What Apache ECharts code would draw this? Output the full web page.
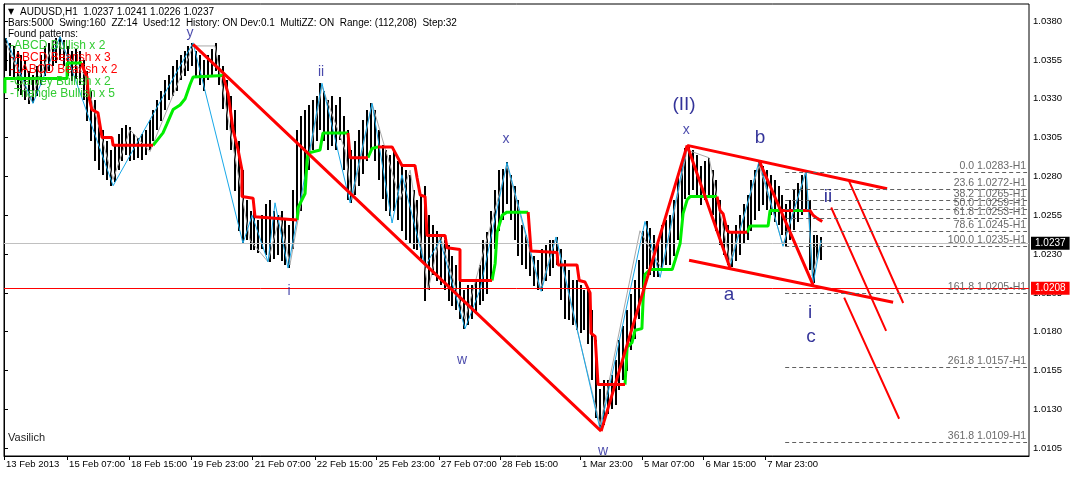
<!DOCTYPE html>
<html><head><meta charset="utf-8">
<script src="https://cdn.jsdelivr.net/npm/echarts@6/dist/echarts.min.js"></script>
<style>html,body{margin:0;padding:0;background:#fff}#c{width:1071px;height:477px}</style>
</head><body><div id="c"></div>
<script>
// ---- DATA ----
// 2-hour groups of hourly bars (group k centred on hourly bar 2k+1)
const barHigh = [
1.0369,1.0366,1.0364,1.0361,1.0358,1.0355,1.0348,1.0345,1.0351,1.0358,
1.0364,1.0366,1.0368,1.0369,1.0370,1.0368,1.0364,1.0361,1.0362,1.0361,
1.0355,1.0348,1.0335,1.0329,1.0319,1.0310,1.0303,1.0297,1.0300,1.0307,
1.0311,1.0313,1.0312,1.0307,1.0305,1.0307,1.0310,1.0316,1.0323,1.0329,
1.0335,1.0342,1.0345,1.0351,1.0355,1.0358,1.0361,1.0364,1.0366,1.0361,
1.0358,1.0355,1.0358,1.0362,1.0366,1.0358,1.0351,1.0342,1.0332,1.0323,
1.0303,1.0284,1.0265,1.0258,1.0258,1.0252,1.0255,1.0262,1.0265,1.0258,
1.0255,1.0258,1.0252,1.0249,1.0271,1.0310,1.0319,1.0323,1.0326,1.0329,
1.0332,1.0340,1.0335,1.0329,1.0332,1.0326,1.0331,1.0319,1.0310,1.0297,
1.0303,1.0310,1.0316,1.0323,1.0327,1.0323,1.0310,1.0300,1.0297,1.0294,
1.0297,1.0290,1.0287,1.0284,1.0281,1.0271,1.0265,1.0268,1.0274,1.0255,
1.0249,1.0245,1.0242,1.0239,1.0236,1.0229,1.0223,1.0217,1.0207,1.0210,
1.0210,1.0213,1.0223,1.0239,1.0244,1.0258,1.0271,1.0284,1.0285,1.0289,
1.0281,1.0274,1.0265,1.0249,1.0242,1.0236,1.0229,1.0226,1.0233,1.0236,
1.0239,1.0239,1.0241,1.0233,1.0226,1.0220,1.0213,1.0213,1.0210,1.0207,
1.0207,1.0194,1.0175,1.0143,1.0149,1.0149,1.0152,1.0162,1.0175,1.0184,
1.0194,1.0204,1.0213,1.0226,1.0245,1.0251,1.0247,1.0242,1.0239,1.0249,
1.0252,1.0255,1.0265,1.0281,1.0290,1.0298,1.0300,1.0297,1.0294,1.0287,
1.0290,1.0292,1.0284,1.0278,1.0265,1.0255,1.0249,1.0245,1.0249,1.0255,
1.0262,1.0268,1.0278,1.0284,1.0290,1.0287,1.0284,1.0281,1.0278,1.0274,
1.0268,1.0262,1.0265,1.0271,1.0276,1.0281,1.0284,1.0265,1.0242,1.0242,
1.0241];
const barLow = [
1.0348,1.0345,1.0342,1.0335,1.0332,1.0329,1.0327,1.0327,1.0332,1.0339,
1.0345,1.0348,1.0351,1.0353,1.0355,1.0351,1.0345,1.0342,1.0343,1.0339,
1.0329,1.0316,1.0303,1.0290,1.0284,1.0281,1.0278,1.0274,1.0276,1.0284,
1.0290,1.0294,1.0290,1.0290,1.0292,1.0290,1.0294,1.0297,1.0303,1.0310,
1.0316,1.0323,1.0329,1.0332,1.0335,1.0342,1.0345,1.0348,1.0351,1.0345,
1.0339,1.0335,1.0342,1.0345,1.0348,1.0339,1.0323,1.0310,1.0297,1.0271,
1.0245,1.0237,1.0239,1.0233,1.0233,1.0231,1.0233,1.0229,1.0225,1.0227,
1.0229,1.0226,1.0223,1.0221,1.0233,1.0252,1.0258,1.0271,1.0284,1.0297,
1.0303,1.0310,1.0303,1.0297,1.0300,1.0297,1.0303,1.0284,1.0265,1.0263,
1.0268,1.0274,1.0281,1.0290,1.0297,1.0290,1.0278,1.0265,1.0258,1.0255,
1.0258,1.0252,1.0245,1.0239,1.0237,1.0233,1.0233,1.0226,1.0200,1.0207,
1.0217,1.0213,1.0210,1.0207,1.0200,1.0197,1.0194,1.0188,1.0182,1.0184,
1.0188,1.0191,1.0197,1.0200,1.0204,1.0213,1.0233,1.0245,1.0252,1.0262,
1.0252,1.0239,1.0229,1.0223,1.0220,1.0216,1.0210,1.0207,1.0206,1.0213,
1.0216,1.0221,1.0223,1.0200,1.0188,1.0188,1.0184,1.0181,1.0179,1.0181,
1.0172,1.0149,1.0125,1.0117,1.0120,1.0127,1.0130,1.0133,1.0143,1.0149,
1.0155,1.0168,1.0175,1.0188,1.0207,1.0220,1.0217,1.0215,1.0215,1.0220,
1.0223,1.0223,1.0229,1.0239,1.0252,1.0265,1.0268,1.0271,1.0268,1.0262,
1.0265,1.0268,1.0255,1.0245,1.0236,1.0229,1.0223,1.0222,1.0226,1.0229,
1.0236,1.0239,1.0245,1.0252,1.0258,1.0262,1.0258,1.0255,1.0251,1.0249,
1.0242,1.0235,1.0239,1.0245,1.0251,1.0255,1.0258,1.0220,1.0211,1.0226,
1.0226];

const tickBars = [0, 32.5, 64.4, 96.2, 128.1, 160.1, 192.0, 224.0, 255.5, 296.7, 328.6, 360.3, 392.2];
const tickLabels = ['13 Feb 2013','15 Feb 07:00','18 Feb 15:00','19 Feb 23:00','21 Feb 07:00','22 Feb 15:00','25 Feb 23:00','27 Feb 07:00','28 Feb 15:00','1 Mar 23:00','5 Mar 07:00','6 Mar 15:00','7 Mar 23:00'];
const yTicks = [1.0105,1.0130,1.0155,1.0180,1.0205,1.0230,1.0255,1.0280,1.0305,1.0330,1.0355,1.0380];

// zigzags [bar, price]
const zigzagBlue = [[1.0,1.0369],[14.9,1.0327],[28.9,1.0370],[56.2,1.0274],[97.4,1.0366],[123.1,1.0237],[127.8,1.0255],[136.0,1.0225],[139.6,1.0263],[146.3,1.0221],[163.8,1.0340],[178.3,1.0263],[189.6,1.0327],[199.9,1.0250],[205.0,1.0281],[216.9,1.0222],[224.6,1.0239],[237.5,1.0182],[245.2,1.0207],[259.1,1.0289],[276.7,1.0206],[284.4,1.0241],[307.1,1.0117],[330.2,1.0251],[338.0,1.0215],[351.9,1.0300],[374.0,1.0222],[389.0,1.0290],[401.3,1.0235],[413.2,1.0284],[416.8,1.0211],[420.9,1.0239]];
const zigzagGray = [[1.0,1.0366],[13.4,1.0329],[26.3,1.0368],[41.7,1.0345],[56.2,1.0278],[64.9,1.0310],[75.2,1.0296],[97.4,1.0364],[108.7,1.0364],[126.7,1.0239],[136.0,1.0225],[142.2,1.0255],[147.3,1.0223],[163.8,1.0338],[175.7,1.0297],[179.3,1.0265],[189.6,1.0327],[204.0,1.0265],[209.2,1.0284],[218.5,1.0207],[224.6,1.0242],[237.5,1.0188],[259.1,1.0287],[276.2,1.0207],[284.4,1.0241],[291.6,1.0200],[307.1,1.0120],[327.6,1.0245],[339.0,1.0220],[351.9,1.0297],[363.2,1.0292],[374.0,1.0225],[389.0,1.0287],[401.3,1.0236],[413.2,1.0283],[416.3,1.0216],[420.9,1.0238]];

// trailing step line pieces
const stepGreen = [
 [[0.5,1.03335],[0.5,1.0343],[32.5,1.0343],[32.5,1.0353],[40.2,1.0353]],
 [[76.8,1.0300],[81.9,1.0308],[84.0,1.0314],[87.1,1.0323],[90.7,1.0326],[93.3,1.0330],[95.8,1.0339],[97.4,1.0344],[112.8,1.0345]],
 [[151.0,1.0252],[151.5,1.0260],[155.1,1.0269],[156.1,1.0290],[156.6,1.0295],[162.8,1.0297],[164.3,1.0308],[177.2,1.0308]],
 [[187.5,1.0292],[189.6,1.0298],[192.7,1.0299]],
 [[251.4,1.0213],[253.0,1.0224],[254.0,1.0244],[256.6,1.0255],[259.1,1.0257],[270.0,1.0257]],
 [[319.9,1.0146],[321.0,1.0170],[323.5,1.0173],[325.1,1.0181],[328.6,1.0182],[329.2,1.0200],[330.2,1.0217],[332.8,1.0220],[344.2,1.0220],[345.7,1.0226],[348.3,1.0237],[349.8,1.0256],[351.9,1.0265],[353.4,1.0267],[367.3,1.0267]],
 [[382.8,1.0244],[384.3,1.0248],[393.6,1.0248],[394.6,1.0258],[401.3,1.0258]],
 [[406.5,1.0258],[411.6,1.0258]]
];
const stepRed = [
 [[40.2,1.0353],[40.7,1.0350],[42.8,1.0344],[43.3,1.03335],[45.3,1.0323],[48.4,1.0321],[50.5,1.0305],[55.6,1.0305],[56.2,1.0300],[76.8,1.0300]],
 [[112.8,1.0345],[115.4,1.03335],[118.0,1.0310],[120.6,1.0297],[122.6,1.0284],[122.6,1.0267],[128.3,1.0266],[129.3,1.0254],[151.0,1.0252]],
 [[177.2,1.0308],[178.3,1.0292],[187.5,1.0292]],
 [[192.7,1.0299],[199.9,1.0299],[205.0,1.0287],[211.7,1.0287],[212.8,1.0279],[214.4,1.0268],[216.9,1.0267],[217.9,1.0242],[227.2,1.0242],[228.2,1.0234],[234.9,1.0233],[234.9,1.0213],[251.4,1.0213]],
 [[270.0,1.0257],[271.5,1.0232],[272.5,1.0231],[284.9,1.0231],[285.4,1.0223],[295.2,1.0223],[296.3,1.0213],[299.3,1.0212],[301.9,1.0205],[302.4,1.0179],[304.5,1.0177],[306.0,1.0146],[319.9,1.0146]],
 [[367.3,1.0267],[368.9,1.0258],[370.4,1.0256],[372.5,1.0245],[374.0,1.0244],[382.8,1.0244]],
 [[400.3,1.0258],[415.2,1.0258],[416.8,1.0255],[418.9,1.0253],[421.5,1.0251]]
];

// wave / channel lines
const trendMain = [
 [[97.4,1.0365],[307.6,1.0116]],
 [[307.6,1.0116],[351.9,1.0300]],
 [[351.9,1.0300],[374.0,1.0221]],
 [[351.9,1.0300],[454.9,1.0272]],
 [[352.9,1.0226],[458.0,1.0199]],
 [[389.0,1.0290],[416.8,1.0210]]
];
const trendProj = [
 [[435.3,1.0277],[463.2,1.01985]],
 [[426.1,1.0260],[454.4,1.01805]],
 [[432.8,1.0202],[461.1,1.0124]]
];

// Fibonacci levels
const fibLevels = ['0.0','23.6','38.2','50.0','61.8','78.6','100.0','161.8','261.8','361.8'];
const fibPrices = [1.0283,1.0272,1.0265,1.0259,1.0253,1.0245,1.0235,1.0205,1.0157,1.0109];
const fibSpan = [402.4, 527];

// wave labels
const smallWaveText = ['y','ii','i','w','x','w','x'];
const smallWaveBar = [95.8,163.3,146.8,236.0,258.6,308.6,351.4];
const smallWavePrice = [1.0372,1.0347,1.0206,1.0162,1.0304,1.0103,1.0310];
const bigWaveText = ['(II)','b','a','ii','i','c'];
const bigWaveBar = [350.3,389.5,373.5,424.5,415.2,415.7];
const bigWavePrice = [1.0326,1.0305,1.0204,1.0267,1.0192,1.0177];

const lastPrice = 1.0237;
const alertLevel = 1.0208;
const headerLine1 = 'AUDUSD,H1  1.0237 1.0241 1.0226 1.0237';
const headerLine2 = 'Bars:5000  Swing:160  ZZ:14  Used:12  History: ON Dev:0.1  MultiZZ: ON  Range: (112,208)  Step:32';
const patternText = ['-ABCD Bullish x 2','-ABCD Bearish x 3','-1ABCD Bearish x 2','-Gartley Bullish x 2','-Triangle Bullish x 5'];
const patternBull = [true,false,false,true,true];

// ---- BUILD ----
function joinPieces(pieces){
  const out = [];
  pieces.forEach((p,i)=>{ if(i) out.push(['-','-']); p.forEach(pt=>out.push(pt)); });
  return out;
}
const FONT = 'Liberation Sans, Arial, sans-serif';
const chart = echarts.init(document.getElementById('c'), null, {renderer:'canvas'});

const barData = barHigh.map((h,k)=>[2*k+1, h, barLow[k]]);

const option = {
  animation:false,
  backgroundColor:'#ffffff',
  grid:{left:4, right:42, top:4, bottom:21, show:true, borderColor:'#000', borderWidth:1, backgroundColor:'#fff'},
  xAxis:{type:'value', min:0, max:528,
    axisLine:{show:true, lineStyle:{color:'#000', width:1}},
    axisTick:{show:true, customValues:tickBars, length:4, lineStyle:{color:'#000'}},
    axisLabel:{show:true, customValues:tickBars, align:'left', margin:3, padding:[0,0,0,2], fontSize:9.5, fontFamily:FONT, color:'#000',
      formatter:(v)=>{ const i = tickBars.findIndex(t=>Math.abs(t-v)<0.01); return i>=0?tickLabels[i]:''; }},
    splitLine:{show:false}},
  yAxis:{type:'value', position:'right', min:1.0100, max:1.0391, scale:true,
    axisLine:{show:true, lineStyle:{color:'#000', width:1}},
    axisTick:{show:true, customValues:yTicks, length:4, lineStyle:{color:'#000'}},
    axisLabel:{show:true, customValues:yTicks, margin:4, fontSize:9.5, fontFamily:FONT, color:'#000', formatter:v=>v.toFixed(4)},
    splitLine:{show:false}},
  series:[
    {type:'custom', name:'bars', data:barData, encode:{x:0, y:[1,2]}, clip:true, z:2,
      renderItem:(params, api)=>{
        const x = api.value(0);
        const p1 = api.coord([x, api.value(1)]);
        const p2 = api.coord([x, api.value(2)]);
        return {type:'rect', shape:{x:Math.round(p1[0])-1, y:Math.round(p1[1]), width:2, height:Math.max(1, Math.round(p2[1]-p1[1]))}, style:{fill:'#000'}};
      }},
    {type:'line', name:'zzGray', data:zigzagGray, symbol:'none', z:3, lineStyle:{color:'#a8a8a8', width:1}},
    {type:'line', name:'zzBlue', data:zigzagBlue, symbol:'none', z:4, lineStyle:{color:'#18a8e8', width:1},
      markLine:{silent:true, symbol:['none','none'], animation:false, precision:4,
        data:[
          {yAxis:lastPrice, lineStyle:{color:'#c0c0c0', width:1, type:'solid'},
            label:{show:true, position:'end', distance:2, formatter:()=>lastPrice.toFixed(4), backgroundColor:'#000', color:'#fff', padding:[2,4,1,4], fontSize:10, fontFamily:FONT}},
          {yAxis:alertLevel, lineStyle:{color:'#ff0000', width:1, type:'solid'},
            label:{show:true, position:'end', distance:2, formatter:()=>alertLevel.toFixed(4), backgroundColor:'#ff0000', color:'#fff', padding:[2,4,1,4], fontSize:10, fontFamily:FONT}}
        ]}},
    {type:'line', name:'stepGreen', data:joinPieces(stepGreen), symbol:'none', connectNulls:false, z:5, lineStyle:{color:'#00ee00', width:3}},
    {type:'line', name:'stepRed', data:joinPieces(stepRed), symbol:'none', connectNulls:false, z:5, lineStyle:{color:'#ff0000', width:3}},
    {type:'line', name:'stepGreen2', data:joinPieces(stepGreen.slice(-1)), symbol:'none', z:6, lineStyle:{color:'#00ee00', width:3}},
    {type:'line', name:'trendMain', data:joinPieces(trendMain), symbol:'none', connectNulls:false, z:7, lineStyle:{color:'#ff0000', width:3}},
    {type:'line', name:'trendProj', data:joinPieces(trendProj), symbol:'none', connectNulls:false, z:7, lineStyle:{color:'#ff0000', width:2}},
    {type:'custom', name:'fib', data:fibPrices.map((p,i)=>[fibSpan[0], p, fibSpan[1], i]), clip:false, z:8,
      renderItem:(params, api)=>{
        const a = api.coord([api.value(0), api.value(1)]);
        const b = api.coord([api.value(2), api.value(1)]);
        const i = api.value(3);
        const y = Math.round(a[1]) + 0.5;
        return {type:'group', children:[
          {type:'line', shape:{x1:a[0], y1:y, x2:b[0], y2:y}, style:{stroke:'#606060', lineWidth:1, lineDash:[4,3]}},
          {type:'text', x:b[0]-1, y:y-1, style:{text:fibLevels[i]+' '+fibPrices[i].toFixed(4)+'-H1', fill:'#6a6a6a', font:'10.5px '+FONT, align:'right', verticalAlign:'bottom'}}
        ]};
      }},
    {type:'scatter', name:'smallWaves', data:smallWaveText.map((t,i)=>[smallWaveBar[i], smallWavePrice[i], t]), symbolSize:1, z:9,
      itemStyle:{color:'rgba(0,0,0,0)'},
      label:{show:true, position:'inside', formatter:p=>p.data[2], color:'#1c1c96', fontSize:14, fontFamily:FONT}},
    {type:'scatter', name:'bigWaves', data:bigWaveText.map((t,i)=>[bigWaveBar[i], bigWavePrice[i], t]), symbolSize:1, z:9,
      itemStyle:{color:'rgba(0,0,0,0)'},
      label:{show:true, position:'inside', formatter:p=>p.data[2], color:'#000080', fontSize:19, fontFamily:FONT}}
  ],
  graphic:[
    {type:'text', x:8, y:12, z:100, style:{text:'▼', font:'8px DejaVu Sans', fill:'#000', verticalAlign:'middle'}},
    {type:'text', x:20, y:12.5, z:100, style:{text:headerLine1, font:'10px '+FONT, fill:'#000', verticalAlign:'middle'}},
    {type:'text', x:8, y:23, z:100, style:{text:headerLine2, font:'10px '+FONT, fill:'#000', verticalAlign:'middle'}},
    {type:'text', x:8, y:34, z:100, style:{text:'Found patterns:', font:'10px '+FONT, fill:'#000', verticalAlign:'middle'}},
    ...patternText.map((t,i)=>({type:'text', x:10, y:45.5+12*i, z:100, style:{text:t, font:'12px '+FONT, fill:patternBull[i]?'#33cc33':'#ff0000', verticalAlign:'middle'}})),
    {type:'text', x:8, y:438, z:100, style:{text:'Vasilich', font:'11px '+FONT, fill:'#222', verticalAlign:'middle'}}
  ]
};
chart.setOption(option);
</script>
</body></html>
